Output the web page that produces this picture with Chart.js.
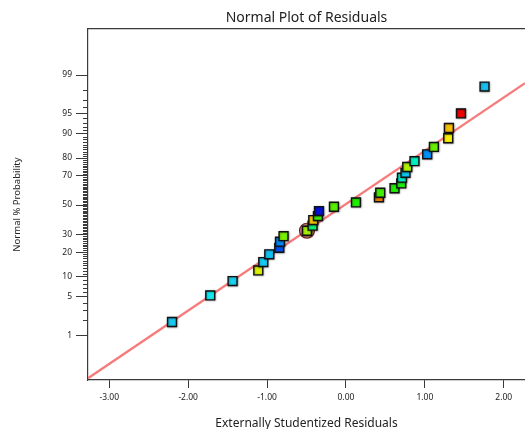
<!DOCTYPE html>
<html>
<head>
<meta charset="utf-8">
<title>Normal Plot of Residuals</title>
<script src="https://cdn.jsdelivr.net/npm/chart.js@4.4.1/dist/chart.umd.min.js"></script>
<style>
  html,body{margin:0;padding:0;background:#fff;}
  #wrap{width:525px;height:429px;}
</style>
</head>
<body>
<div id="wrap"><canvas id="npp" width="525" height="429"></canvas></div>
<script>
// residuals and their normal % probability (sorted)
const residuals = [-2.205,-1.72,-1.437,-1.111,-1.048,-0.972,-0.845,-0.836,-0.791,-0.494,
                   -0.423,-0.414,-0.355,-0.342,-0.152,0.127,0.418,0.435,0.616,0.701,
                   0.710,0.755,0.777,0.869,1.030,1.115,1.297,1.305,1.458,1.757];
const probs     = [1.82,5.3,8.7,12.1,15.4,18.9,22.2,25.6,28.9,32.3,
                   35.6,39.4,42.2,45.7,48.8,51.9,55.5,58.7,61.8,65.1,
                   68.8,71.8,75.2,78.4,81.8,85.1,88.4,91.6,94.95,98.3];
const colors    = ['#18c8f0','#10e8f0','#18d0f0','#d8f000','#18c8f0','#10c0f0','#0050f0','#0088f8','#78f000','#a8f000',
                   '#10f070','#f8c800','#40f000','#0010d8','#58f000','#20f000','#f88000','#40f000','#20f000','#20f010',
                   '#00f0c8','#10c8f0','#b0f000','#00f0c0','#0090f8','#68f000','#f8f000','#f8c000','#f00000','#18c0f0'];
const circled   = [9];
// reference line
const fitX    = [-3.27, 2.27];
const fitProb = [0.097, 98.54];
// axes
const xTicks  = [-3,-2,-1,0,1,2];
const yMajor  = [1,5,10,20,30,50,70,80,90,95,99];

// inverse normal cdf (Acklam)
const probit = p => {
  const a=[-3.969683028665376e+01,2.209460984245205e+02,-2.759285104469687e+02,1.383577518672690e+02,-3.066479806614716e+01,2.506628277459239e+00];
  const b=[-5.447609879822406e+01,1.615858368580409e+02,-1.556989798598866e+02,6.680131188771972e+01,-1.328068155288572e+01];
  const c=[-7.784894002430293e-03,-3.223964580411365e-01,-2.400758277161838e+00,-2.549732539343734e+00,4.374664141464968e+00,2.938163982698783e+00];
  const d=[7.784695709041462e-03,3.224671290700398e-01,2.445134137142996e+00,3.754408661907416e+00];
  const pl=0.02425;
  if(p<pl){const q=Math.sqrt(-2*Math.log(p));return(((((c[0]*q+c[1])*q+c[2])*q+c[3])*q+c[4])*q+c[5])/((((d[0]*q+d[1])*q+d[2])*q+d[3])*q+1);}
  if(p>1-pl){const q=Math.sqrt(-2*Math.log(1-p));return-(((((c[0]*q+c[1])*q+c[2])*q+c[3])*q+c[4])*q+c[5])/((((d[0]*q+d[1])*q+d[2])*q+d[3])*q+1);}
  const q=p-0.5,r=q*q;
  return(((((a[0]*r+a[1])*r+a[2])*r+a[3])*r+a[4])*r+a[5])*q/(((((b[0]*r+b[1])*r+b[2])*r+b[3])*r+b[4])*r+1);
};
const toZ = p => probit(p/100);

const yMinor=[]; for(let p=2;p<=98;p++) if(!yMajor.includes(p)) yMinor.push(p);

const FONT = "'Noto Sans', sans-serif";
const pts = residuals.map((x,i)=>({x, y:toZ(probs[i])}));

// point shadows + minor ticks on the probability axis
const extras = {
  id:'extras',
  beforeDatasetDraw(chart,args){ if(args.index===0){const c=chart.ctx;c.save();c.shadowColor='rgba(0,0,0,0.35)';c.shadowBlur=2;c.shadowOffsetX=0.5;c.shadowOffsetY=0.5;} },
  afterDatasetDraw(chart,args){ if(args.index===0) chart.ctx.restore(); },
  afterDraw(chart){
    const {ctx,chartArea:a,scales:{y}}=chart;
    ctx.save(); ctx.strokeStyle='#3a3a3a'; ctx.lineWidth=1;
    ctx.beginPath();
    yMinor.forEach(p=>{const py=Math.round(y.getPixelForValue(toZ(p)))+0.5;ctx.moveTo(a.left-5,py);ctx.lineTo(a.left,py);});
    ctx.stroke(); ctx.restore();
  }
};

new Chart(document.getElementById('npp'),{
  type:'scatter',
  data:{datasets:[
    {data:pts,pointStyle:'rect',pointRadius:6.3,pointHoverRadius:6.3,backgroundColor:colors,borderColor:'#111',borderWidth:1.4,order:1},
    {data:circled.map(i=>pts[i]),pointStyle:'circle',pointRadius:7.5,pointHoverRadius:7.5,backgroundColor:'rgba(165,75,65,0.75)',borderColor:'#6e2a22',borderWidth:1.2,order:2},
    {type:'line',data:fitX.map((x,i)=>({x,y:toZ(fitProb[i])})),borderColor:'#f67c7c',borderWidth:2.4,pointRadius:0,fill:false,order:3}
  ]},
  options:{
    responsive:false,animation:false,devicePixelRatio:1,
    layout:{padding:0,autoPadding:false},
    plugins:{legend:{display:false},tooltip:{enabled:false}},
    scales:{
      x:{type:'linear',min:-3.27,max:2.27,
        afterBuildTicks:s=>{s.ticks=xTicks.map(v=>({value:v}));},
        afterFit:s=>{s.height=49;s.paddingLeft=0;s.paddingRight=0;},
        ticks:{callback:v=>v.toFixed(2),color:'#222',font:{family:FONT,size:8.5},padding:4,maxRotation:0,autoSkip:false},
        grid:{drawOnChartArea:false,drawTicks:true,tickLength:8,color:'#3a3a3a'},
        border:{color:'#3a3a3a',width:1.2},
        title:{display:true,text:'Externally Studentized Residuals',color:'#222',font:{family:FONT,size:12,lineHeight:1},padding:{top:0,bottom:-1}}
      },
      // top frame edge, carries the chart title centred over the plot
      xTop:{type:'linear',position:'top',min:-3.27,max:2.27,
        afterBuildTicks:s=>{s.ticks=[];},
        afterFit:s=>{s.height=29;s.paddingLeft=0;s.paddingRight=0;},
        ticks:{display:false},
        grid:{display:false,drawTicks:false},
        border:{display:true,color:'#3a3a3a',width:1.2},
        title:{display:true,text:'Normal Plot of Residuals',color:'#222',font:{family:FONT,size:14},padding:{top:9.6,bottom:0}}
      },
      y:{type:'linear',min:-3.13,max:3.15,
        afterBuildTicks:s=>{s.ticks=yMajor.map(p=>({value:toZ(p)}));},
        afterFit:s=>{s.width=88;s.paddingTop=0;s.paddingBottom=0;},
        ticks:{callback:(v,i)=>String(yMajor[i]),color:'#222',font:{family:FONT,size:8.5},padding:4,autoSkip:false},
        grid:{drawOnChartArea:false,drawTicks:true,tickLength:12,color:'#3a3a3a'},
        border:{color:'#3a3a3a',width:1.2},
        title:{display:true,text:'Normal % Probability',color:'#222',font:{family:FONT,size:9.5},padding:{top:11.8,bottom:0}}
      }
    }
  },
  plugins:[extras]
});
</script>
</body>
</html>
